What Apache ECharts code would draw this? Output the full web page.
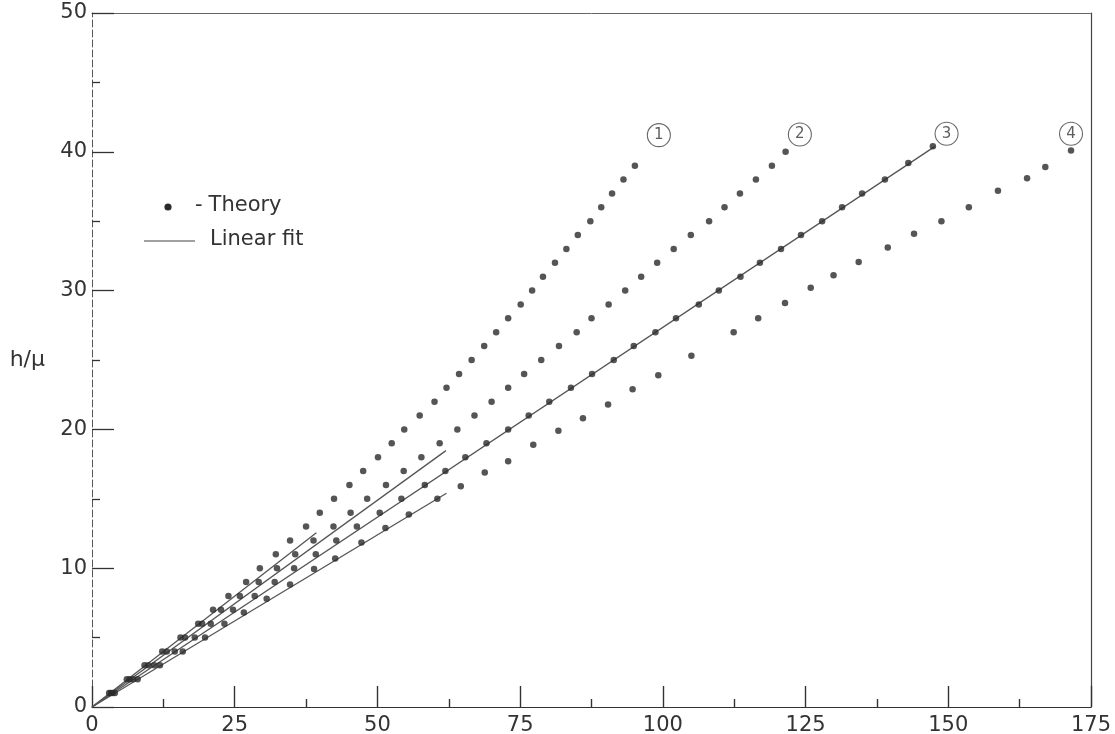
<!DOCTYPE html>
<html>
<head>
<meta charset="utf-8">
<script src="https://cdn.jsdelivr.net/npm/echarts@6/dist/echarts.min.js"></script>
<style>
html,body{margin:0;padding:0;background:#fff;}
#chart{width:1115px;height:734px;}
</style>
</head>
<body>
<div id="chart"></div>
<script>
// ---- data ----
const xTicks = [0, 25, 50, 75, 100, 125, 150, 175];
const yTicks = [0, 10, 20, 30, 40, 50];

// Theory points, curve 1
const theory1X = [3.0, 6.1, 9.2, 12.3, 15.5, 18.6, 21.2, 23.9, 27.0, 29.4, 32.2, 34.7, 37.5, 39.9, 42.4, 45.1, 47.5, 50.1, 52.5, 54.7, 57.4, 60.0, 62.1, 64.3, 66.5, 68.7, 70.8, 72.9, 75.1, 77.1, 79.0, 81.1, 83.1, 85.1, 87.3, 89.2, 91.1, 93.1, 95.1];
const theory1Y = [1, 2, 3, 4, 5, 6, 7, 8, 9, 10, 11, 12, 13, 14, 15, 16, 17, 18, 19, 20, 21, 22, 23, 24, 25, 26, 27, 28, 29, 30, 31, 32, 33, 34, 35, 36, 37, 38, 39];

// Theory points, curve 2
const theory2X = [3.3, 6.6, 9.9, 13.1, 16.3, 19.3, 22.6, 25.9, 29.2, 32.4, 35.6, 38.8, 42.3, 45.3, 48.2, 51.5, 54.6, 57.7, 60.9, 64.0, 67.0, 70.0, 72.9, 75.7, 78.7, 81.8, 84.9, 87.5, 90.5, 93.4, 96.2, 99.0, 101.9, 104.9, 108.1, 110.8, 113.5, 116.3, 119.1, 121.5];
const theory2Y = [1, 2, 3, 4, 5, 6, 7, 8, 9, 10, 11, 12, 13, 14, 15, 16, 17, 18, 19, 20, 21, 22, 23, 24, 25, 26, 27, 28, 29, 30, 31, 32, 33, 34, 35, 36, 37, 38, 39, 40];

// Theory points, curve 3
const theory3X = [3.6, 7.2, 10.9, 14.5, 18.0, 20.8, 24.7, 28.5, 32.0, 35.4, 39.2, 42.8, 46.4, 50.4, 54.2, 58.3, 61.9, 65.4, 69.1, 72.9, 76.5, 80.1, 83.9, 87.6, 91.4, 94.9, 98.7, 102.3, 106.3, 109.8, 113.6, 117.0, 120.7, 124.2, 127.9, 131.4, 134.9, 138.9, 143.0, 147.3];
const theory3Y = [1, 2, 3, 4, 5, 6, 7, 8, 9, 10, 11, 12, 13, 14, 15, 16, 17, 18, 19, 20, 21, 22, 23, 24, 25, 26, 27, 28, 29, 30, 31, 32, 33, 34, 35, 36, 37, 38, 39.2, 40.4];

// Theory points, curve 4
const theory4X = [4.0, 8.0, 11.9, 15.9, 19.8, 23.2, 26.6, 30.6, 34.7, 38.9, 42.6, 47.2, 51.4, 55.5, 60.5, 64.6, 68.8, 72.9, 77.3, 81.7, 86.0, 90.4, 94.7, 99.2, 105.0, 112.4, 116.7, 121.4, 125.9, 129.9, 134.3, 139.4, 144.0, 148.8, 153.6, 158.7, 163.8, 167.0, 171.5];
const theory4Y = [1, 2, 3, 4, 5, 6, 6.8, 7.8, 8.83, 9.94, 10.7, 11.86, 12.9, 13.86, 15.0, 15.9, 16.9, 17.7, 18.9, 19.9, 20.8, 21.8, 22.9, 23.9, 25.3, 27.0, 28.0, 29.1, 30.2, 31.1, 32.06, 33.1, 34.1, 35.0, 36.0, 37.2, 38.1, 38.9, 40.1];

// Linear fits: from origin to end point
const fitStartX = [0, 0, 0, 0];
const fitStartY = [0, 0, 0, 0];
const fitEndX = [39.3, 62.0, 147.6, 62.1];
const fitEndY = [12.56, 18.47, 40.37, 15.4];

// Curve number labels (circled)
const curveLabels = ['1', '2', '3', '4'];
const curveLabelX = [99.3, 124.0, 149.7, 171.5];
const curveLabelY = [41.2, 41.25, 41.3, 41.3];

// ---- build ----
const FONT = 'DejaVu Sans';
const INK = '#2a2a2a';
const zip = (xs, ys) => xs.map((x, i) => [x, ys[i]]);
const theorySets = [zip(theory1X, theory1Y), zip(theory2X, theory2Y), zip(theory3X, theory3Y), zip(theory4X, theory4Y)];

const series = [];
fitEndX.forEach((ex, i) => {
  series.push({
    type: 'line', name: 'Linear fit',
    data: [[fitStartX[i], fitStartY[i]], [ex, fitEndY[i]]],
    symbol: 'none', silent: true,
    lineStyle: { color: '#555', width: 1.3 },
    z: 2
  });
});
theorySets.forEach((d) => {
  series.push({
    type: 'scatter', name: 'Theory', data: d,
    symbol: 'circle', symbolSize: 6.5,
    itemStyle: { color: INK },
    z: 3
  });
});
series.push({
  type: 'scatter', name: 'labels',
  data: curveLabels.map((t, i) => ({ value: [curveLabelX[i], curveLabelY[i]], name: t })),
  symbol: 'circle', symbolSize: 23,
  itemStyle: { color: '#fff', borderColor: '#444', borderWidth: 1.1 },
  label: { show: true, position: 'inside', formatter: p => p.name, fontFamily: FONT, fontSize: 15, color: '#333' },
  z: 4
});

const chart = echarts.init(document.getElementById('chart'), null, { renderer: 'canvas' });
chart.setOption({
  backgroundColor: '#fff',
  animation: false,
  grid: { left: 92, top: 13, right: 24, bottom: 27, containLabel: false, outerBoundsMode: 'none' },
  xAxis: [{
    type: 'value', min: xTicks[0], max: xTicks[xTicks.length - 1], interval: xTicks[1] - xTicks[0],
    axisLine: { show: true, lineStyle: { color: '#333', width: 1.2 } },
    axisTick: { show: true, inside: true, length: 21, lineStyle: { color: '#333', width: 1.4 } },
    minorTick: { show: true, splitNumber: 2, length: 8, lineStyle: { color: '#333', width: 1.4 } },
    axisLabel: { fontFamily: FONT, fontSize: 21, color: '#333', margin: 8 },
    splitLine: { show: false }
  }, {
    type: 'value', position: 'top', min: xTicks[0], max: xTicks[xTicks.length - 1],
    axisLine: { show: true, onZero: false, lineStyle: { color: '#666', width: 1 } },
    axisTick: { show: false }, axisLabel: { show: false }, splitLine: { show: false }
  }],
  yAxis: [{
    type: 'value', min: yTicks[0], max: yTicks[yTicks.length - 1], interval: yTicks[1] - yTicks[0],
    name: 'h/μ', nameLocation: 'middle', nameRotate: 0, nameGap: 47,
    nameTextStyle: { fontFamily: FONT, fontSize: 22, color: '#333', padding: [0, 0, 34, 0] },
    axisLine: { show: true, lineStyle: { color: '#555', width: 1, type: [7, 3] } },
    axisTick: { show: true, inside: true, length: 22, lineStyle: { color: '#333', width: 1.3 } },
    minorTick: { show: true, splitNumber: 2, length: 8, lineStyle: { color: '#333', width: 1.3 } },
    axisLabel: { fontFamily: FONT, fontSize: 21, color: '#333', margin: 5 },
    splitLine: { show: false }
  }, {
    type: 'value', position: 'right', min: yTicks[0], max: yTicks[yTicks.length - 1],
    axisLine: { show: true, onZero: false, lineStyle: { color: '#444', width: 1.2 } },
    axisTick: { show: false }, axisLabel: { show: false }, splitLine: { show: false }
  }],
  graphic: [
    { type: 'circle', shape: { cx: 168, cy: 207, r: 3.6 }, style: { fill: INK } },
    { type: 'text', left: 195, top: 195,
      style: { text: '{d|-}{t|Theory}', rich: { d: { fontFamily: FONT, fontSize: 21, fill: '#333', padding: [0, 6, 0, 0] }, t: { fontFamily: FONT, fontSize: 21, fill: '#333' } } } },
    { type: 'line', shape: { x1: 144, y1: 241, x2: 195, y2: 241 }, style: { stroke: '#444', lineWidth: 1.2 } },
    { type: 'text', left: 210, top: 229, style: { text: 'Linear fit', fontFamily: FONT, fontSize: 21, fill: '#333' } }
  ],
  series: series
});
</script>
</body>
</html>
